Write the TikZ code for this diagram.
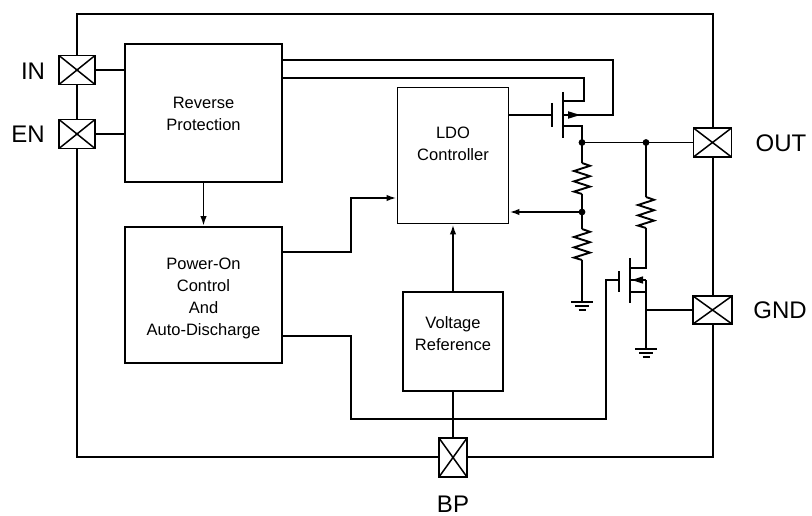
\documentclass[tikz,border=0pt]{standalone}
\usepackage{fontspec}
\setmainfont{Liberation Sans}
\usetikzlibrary{arrows.meta}
\begin{document}
\begin{tikzpicture}[x=1pt,y=-1pt,line width=1.9pt,
  blk/.style 2 args={draw,inner sep=0pt,minimum width=#1,minimum height=#2},
  pad/.style 2 args={draw,fill=white,inner sep=0pt,minimum width=#1,minimum height=#2,
    path picture={\draw[line width=1.5pt] (path picture bounding box.south west) -- (path picture bounding box.north east)
      (path picture bounding box.north west) -- (path picture bounding box.south east);}},
  txt/.style={font=\fontsize{16.5}{22}\selectfont,align=center,inner sep=0pt},
  lbl/.style={font=\fontsize{24}{28}\selectfont,inner sep=0pt},
  arr/.style={-{Latex[length=10pt,width=6.5pt]}},
  res/.pic={\draw (0,0) -- (8,2.8) -- (-8,8) -- (8,13.2) -- (-8,18.4) -- (8,23.6) -- (-8,28.6) -- (0,31);},
  gnd/.pic={\draw[line width=1.4pt] (-11,0) -- (11,0) (-7,4) -- (7,4) (-3.5,8) -- (3.5,8);}]
\useasboundingbox (0,0) rectangle (812,516);
% outer frame
\draw (77,14) rectangle (713,457);
% blocks
\node[blk={157pt}{138pt}] (rp) at (203.5,113) {};
\node[blk={111pt}{136pt}] (ldo) at (453,155.5) {};
\node[blk={157pt}{136pt}] (po) at (203.5,295) {};
\node[blk={100pt}{99pt}] (vr) at (453,341.5) {};
\node[txt] (rptext) at (203.5,114) {Reverse\\Protection};
\node[txt] (ldotext) at (453,143.5) {LDO\\Controller};
\node[txt] (potext) at (203.5,298.5) {Power-On\\Control\\And\\Auto-Discharge};
\node[txt] (vrtext) at (453,333.5) {Voltage\\Reference};
% pads
\node[pad={36pt}{29pt}] (inpad) at (77,70) {};
\node[pad={36pt}{29pt}] (enpad) at (77,134) {};
\node[pad={38pt}{29pt}] (outpad) at (712.5,142.5) {};
\node[pad={39pt}{28pt}] (gndpad) at (712.5,310) {};
\node[pad={28pt}{39pt}] (bppad) at (453,457.5) {};
\node[lbl] (inlbl) at (33,71) {IN};
\node[lbl] (enlbl) at (28,134) {EN};
\node[lbl] (outlbl) at (781,143) {OUT};
\node[lbl] (gndlbl) at (780,310) {GND};
\node[lbl] (bplbl) at (453,504) {BP};
% coordinates
\coordinate (t1) at (613,60);
\coordinate (t2) at (584,78);
\coordinate (g1) at (552,115);
\coordinate (n1) at (582,142.5);
\coordinate (n2) at (582,212);
\coordinate (n3) at (646,142.5);
\coordinate (c1) at (351,252);
\coordinate (c2) at (351,198);
\coordinate (c3) at (351,336);
\coordinate (c4) at (351,419);
\coordinate (c5) at (606,419);
\coordinate (g2) at (606,280);
% input connections
\draw (inpad.east) -- (inpad.east -| rp.west);
\draw (enpad.east) -- (enpad.east -| rp.west);
\draw[arr] (rp.south) -- (po.north);
% top PMOS
\draw (t1 -| rp.east) -- (t1) -- (613,115) -- (563,115);
\fill (568,111.2) -- (580,115) -- (568,118.8) -- cycle;
\draw (t2 -| rp.east) -- (t2) -- (584,101) -- (563,101);
\draw (g1 -| ldo.east) -- (g1);
\draw (552,103) -- (552,127);
\draw (563,92) -- (563,138);
\draw (563,126) -- (582,126) -- (n1);
\draw (n1) -- (n1 -| outpad.west);
% divider
\draw (n1) -- (582,163);
\pic at (582,163) {res};
\draw (582,194) -- (n2) -- (582,229);
\pic at (582,229) {res};
\draw (582,260) -- (582,302);
\pic at (582,302) {gnd};
\draw[arr] (n2) -- (n2 -| ldo.east);
% discharge path
\draw (n3) -- (646,197);
\pic at (646,197) {res};
\draw (646,228) -- (646,268) -- (630,268);
\draw (630,258) -- (630,303);
\draw (619,271) -- (619,292);
\draw (630,280) -- (646,280);
\fill (632,280) -- (643,276.3) -- (643,283.7) -- cycle;
\draw (630,292) -- (646,292);
\draw (646,280) -- (646,349);
\pic at (646,349) {gnd};
\draw (646,310) -- (gndpad.west);
% power-on control
\draw[arr] (c1 -| po.east) -- (c1) -- (c2) -- (c2 -| ldo.west);
\draw (c3 -| po.east) -- (c3) -- (c4) -- (c5) -- (g2) -- (619,280);
% reference
\draw[arr] (vr.north) -- (vr.north |- ldo.south);
\draw (vr.south) -- (bppad.north);
% dots
\fill (n1) circle (3.4pt);
\fill (n2) circle (3.4pt);
\fill (n3) circle (3.4pt);
\end{tikzpicture}
\end{document}
